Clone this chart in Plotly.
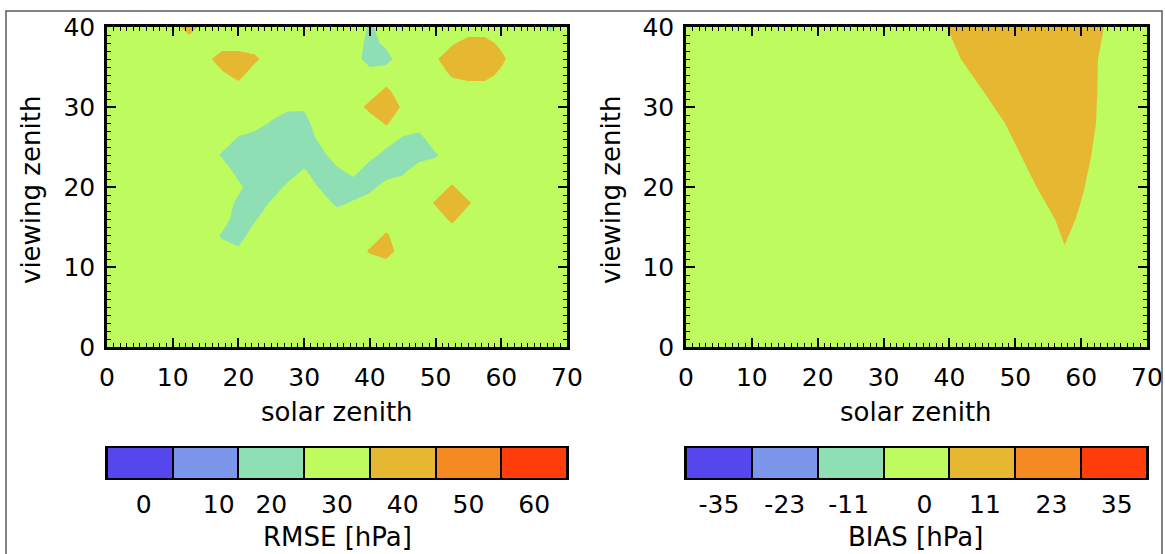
import plotly.graph_objects as go

# ---------------- data ----------------
SOLAR_ZENITH = [0.0, 2.5, 5.0, 7.5, 10.0, 12.5, 15.0, 17.5, 20.0, 22.5, 25.0, 27.5, 30.0, 32.5,
                35.0, 37.5, 40.0, 42.5, 45.0, 47.5, 50.0, 52.5, 55.0, 57.5, 60.0, 62.5, 65.0,
                67.5, 70.0]

VIEW_ZENITH_RMSE = [0, 2, 4, 6, 8, 10, 12, 14, 16, 18, 20, 22, 24, 26, 28, 30, 32, 34, 36, 38, 40]

RMSE = [
    [30, 30, 30, 30, 30, 30, 30, 30, 30, 30, 30, 30, 30, 30, 30, 30, 30, 30, 30, 30, 30, 30, 30, 30, 30, 30, 30, 30, 30],
    [30, 30, 30, 30, 30, 30, 30, 30, 30, 30, 30, 30, 30, 30, 30, 30, 30, 30, 30, 30, 30, 30, 30, 30, 30, 30, 30, 30, 30],
    [30, 30, 30, 30, 30, 30, 30, 30, 30, 30, 30, 30, 30, 30, 30, 30, 30, 30, 30, 30, 30, 30, 30, 30, 30, 30, 30, 30, 30],
    [30, 30, 30, 30, 30, 30, 30, 30, 30, 30, 30, 30, 30, 30, 30, 30, 30, 30, 30, 30, 30, 30, 30, 30, 30, 30, 30, 30, 30],
    [30, 30, 30, 30, 30, 30, 30, 30, 30, 30, 30, 30, 30, 30, 30, 30, 30, 30, 30, 30, 30, 30, 30, 30, 30, 30, 30, 30, 30],
    [30, 30, 30, 30, 30, 30, 30, 30, 30, 30, 30, 30, 30, 30, 30, 30, 30, 30, 30, 30, 30, 30, 30, 30, 30, 30, 30, 30, 30],
    [30, 30, 30, 30, 30, 30, 30, 28, 27, 30, 30, 30, 30, 30, 30, 30, 36, 40, 30, 30, 30, 30, 30, 30, 30, 30, 30, 30, 30],
    [30, 30, 30, 30, 30, 30, 30, 24, 20, 30, 30, 30, 30, 30, 30, 30, 30, 36, 30, 30, 30, 30, 30, 30, 30, 30, 30, 30, 30],
    [30, 30, 30, 30, 30, 30, 30, 30, 20, 24, 30, 30, 30, 30, 30, 30, 30, 30, 30, 30, 30, 37, 30, 30, 30, 30, 30, 30, 30],
    [30, 30, 30, 30, 30, 30, 30, 30, 23, 20, 26, 30, 30, 30, 23, 26, 30, 30, 30, 30, 36, 40, 36, 30, 30, 30, 30, 30, 30],
    [30, 30, 30, 30, 30, 30, 30, 30, 27, 20, 20, 27, 30, 24, 20, 20, 22, 29, 30, 30, 30, 36, 30, 30, 30, 30, 30, 30, 30],
    [30, 30, 30, 30, 30, 30, 30, 30, 22, 20, 20, 20, 26, 20, 23, 28, 20, 20, 23, 30, 30, 30, 30, 30, 30, 30, 30, 30, 30],
    [30, 30, 30, 30, 30, 30, 30, 24, 20, 20, 20, 20, 20, 22, 30, 31, 28, 22, 20, 21, 24, 30, 30, 30, 30, 30, 30, 30, 30],
    [30, 30, 30, 30, 30, 30, 30, 30, 24, 20, 20, 20, 20, 27, 30, 30, 30, 29, 24, 22, 30, 30, 30, 30, 30, 30, 30, 30, 30],
    [30, 30, 30, 30, 30, 30, 30, 30, 30, 30, 24, 20, 22, 30, 30, 30, 30, 36, 30, 29, 30, 30, 30, 30, 30, 30, 30, 30, 30],
    [30, 30, 30, 30, 30, 30, 30, 30, 30, 30, 30, 27, 26, 30, 30, 30, 38, 40, 34, 30, 30, 30, 30, 30, 30, 30, 30, 30, 30],
    [30, 30, 30, 30, 30, 30, 30, 30, 30, 30, 30, 30, 30, 30, 30, 30, 30, 37, 30, 30, 30, 30, 30, 30, 30, 30, 30, 30, 30],
    [30, 30, 30, 30, 30, 30, 30, 33, 38, 30, 30, 30, 30, 30, 30, 30, 30, 30, 30, 30, 30, 36, 38, 38, 33, 30, 30, 30, 30],
    [30, 30, 30, 30, 30, 30, 32, 40, 40, 37, 30, 30, 30, 30, 30, 30, 20, 22, 30, 30, 34, 40, 42, 42, 37, 30, 30, 30, 30],
    [30, 30, 30, 30, 30, 30, 30, 30, 30, 30, 30, 30, 30, 30, 30, 30, 22, 27, 30, 30, 30, 34, 38, 38, 33, 30, 30, 30, 30],
    [30, 30, 30, 30, 30, 40, 30, 30, 30, 30, 30, 30, 30, 30, 30, 30, 24, 28, 30, 30, 30, 30, 30, 30, 30, 30, 30, 23, 30],
]

VIEW_ZENITH_BIAS = [0, 4, 8, 12, 16, 20, 24, 28, 32, 36, 40]

BIAS = [
    [-3, -3, -3, -3, -3, -3, -3, -3, -3, -3, -3, -3, -3, -3, -3, -3, -3, -3, -3, -3, -3, -3, -3, -3, -3, -3, -3, -3, -3],
    [-3, -3, -3, -3, -3, -3, -3, -3, -3, -3, -3, -3, -3, -3, -3, -3, -3, -3, -3, -3, -3, -3, -3, -3, -3, -3, -3, -3, -3],
    [-3, -3, -3, -3, -3, -3, -3, -3, -3, -3, -3, -3, -3, -3, -3, -3, -3, -3, -3, -3, -3, -3, -3, -3, -3, -3, -3, -3, -3],
    [-3, -3, -3, -3, -3, -3, -3, -3, -3, -3, -3, -3, -3, -3, -3, -3, -3, -3, -3, -3, -1.5, 1.0, 3.5, 5.5, 3.5, 1.0, -1.5, -3, -3],
    [-3, -3, -3, -3, -3, -3, -3, -3, -3, -3, -3, -3, -3, -3, -3, -3, -3, -3, -3, -2.7, -0.2, 2.3, 4.8, 7.3, 5.1, 2.6, 0.1, -2.4, -3],
    [-3, -3, -3, -3, -3, -3, -3, -3, -3, -3, -3, -3, -3, -3, -3, -3, -3, -3, -2.4, 0.1, 2.6, 5.1, 7.6, 8.9, 6.4, 3.9, 1.4, -1.1, -3],
    [-3, -3, -3, -3, -3, -3, -3, -3, -3, -3, -3, -3, -3, -3, -3, -3, -3, -2.5, 0.0, 2.5, 5.0, 7.5, 10.0, 9.9, 7.4, 4.9, 2.4, -0.1, -2.6],
    [-3, -3, -3, -3, -3, -3, -3, -3, -3, -3, -3, -3, -3, -3, -3, -3, -2.6, -0.1, 2.4, 4.9, 7.4, 9.9, 12.0, 10.6, 8.1, 5.6, 3.1, 0.6, -1.9],
    [-3, -3, -3, -3, -3, -3, -3, -3, -3, -3, -3, -3, -3, -3, -3, -1.8, 0.7, 3.2, 5.7, 8.2, 10.7, 12.0, 12.0, 10.8, 8.3, 5.8, 3.3, 0.8, -1.7],
    [-3, -3, -3, -3, -3, -3, -3, -3, -3, -3, -3, -3, -3, -3, -0.9, 1.6, 4.1, 6.6, 9.1, 11.6, 12.0, 12.0, 12.0, 10.9, 8.4, 5.9, 3.4, 0.9, -1.6],
    [-3, -3, -3, -3, -3, -3, -3, -3, -3, -3, -3, -3, -3, -1.3, 1.2, 3.7, 6.2, 8.7, 11.2, 12.0, 12.0, 12.0, 12.0, 11.8, 9.3, 6.8, 4.3, 1.8, -0.7],
]

RMSE_BAR_VALUES = [0, 10, 20, 30, 40, 50, 60]
RMSE_BAR_LABELS = ["0", "10", "20", "30", "40", "50", "60"]
BIAS_BAR_VALUES = [-35, -23, -11, 0, 11, 23, 35]
BIAS_BAR_LABELS = ["-35", "-23", "-11", "0", "11", "23", "35"]

# ---------------- styling ----------------
PALETTE = ["#5546EE", "#7C96EC", "#8EE0B4", "#BDFB5E", "#E6B832", "#F58A22", "#FF3D0A"]
colorscale = []
for k, c in enumerate(PALETTE):
    colorscale.append([k / 7, c])
    colorscale.append([(k + 1) / 7, c])

FONT = "DejaVu Sans"
W, H = 1165, 554


def px_x(p):
    return p / W


def px_y(p):
    return 1 - p / H


fig = go.Figure()

fig.add_trace(go.Contour(
    x=SOLAR_ZENITH, y=VIEW_ZENITH_RMSE, z=RMSE,
    xaxis="x", yaxis="y",
    colorscale=colorscale, autocontour=False,
    contours=dict(start=5, end=55, size=10, coloring="fill", showlines=False),
    line=dict(width=0), line_smoothing=0, showscale=False, hoverinfo="skip"))

bias_step = 35 / 3
fig.add_trace(go.Contour(
    x=SOLAR_ZENITH, y=VIEW_ZENITH_BIAS, z=BIAS,
    xaxis="x2", yaxis="y2",
    colorscale=colorscale, autocontour=False,
    contours=dict(start=-2.5 * bias_step, end=2.5 * bias_step + 0.05, size=bias_step,
                  coloring="fill", showlines=False),
    line=dict(width=0), line_smoothing=0, showscale=False, hoverinfo="skip"))

fig.add_trace(go.Heatmap(
    x=list(range(len(RMSE_BAR_VALUES))), y=[0], z=[RMSE_BAR_VALUES],
    xaxis="x3", yaxis="y3", colorscale=colorscale, zmin=-5, zmax=65,
    xgap=2, showscale=False, hoverinfo="skip"))

fig.add_trace(go.Heatmap(
    x=list(range(len(BIAS_BAR_VALUES))), y=[0], z=[BIAS_BAR_VALUES],
    xaxis="x4", yaxis="y4", colorscale=colorscale, zmin=-35 - bias_step / 2,
    zmax=35 + bias_step / 2, xgap=2, showscale=False, hoverinfo="skip"))

tickfont = dict(family=FONT, size=25, color="black")
main_axis = dict(
    automargin=False,
    showline=True, linecolor="black", linewidth=2.5, mirror="ticks",
    ticks="inside", ticklen=9, tickwidth=2, tickcolor="black",
    minor=dict(dtick=1, ticks="inside", ticklen=4, tickwidth=1, tickcolor="black"),
    showgrid=False, zeroline=False, tickfont=tickfont, dtick=10, tick0=0)

bar_x = dict(automargin=False, range=[-0.5, 6.5], showline=True, linecolor="black",
             linewidth=2, mirror=True, ticks="", showgrid=False, zeroline=False,
             tickfont=tickfont, ticklabelstandoff=3)
bar_y = dict(automargin=False, range=[-0.5, 0.5], showline=True, linecolor="black",
             linewidth=2, mirror=True, ticks="", showticklabels=False, showgrid=False,
             zeroline=False)

left_dom = [px_x(107), px_x(567)]
right_dom = [px_x(686), px_x(1147)]
main_ydom = [px_y(347), px_y(27)]
bar_ydom = [px_y(478), px_y(448)]

fig.update_layout(
    template="none",
    width=W, height=H, margin=dict(l=0, r=0, t=0, b=0, pad=0), autosize=False,
    paper_bgcolor="white", plot_bgcolor="white", showlegend=False,
    xaxis=dict(main_axis, domain=left_dom, anchor="y", range=[0, 70], ticklabelstandoff=6),
    yaxis=dict(main_axis, domain=main_ydom, anchor="x", range=[0, 40], ticklabelstandoff=4),
    xaxis2=dict(main_axis, domain=right_dom, anchor="y2", range=[0, 70], ticklabelstandoff=6),
    yaxis2=dict(main_axis, domain=main_ydom, anchor="x2", range=[0, 40], ticklabelstandoff=4),
    xaxis3=dict(bar_x, domain=left_dom, anchor="y3",
                tickvals=[0.06, 1.2, 2, 3, 4, 5, 6], ticktext=RMSE_BAR_LABELS),
    yaxis3=dict(bar_y, domain=bar_ydom, anchor="x3"),
    xaxis4=dict(bar_x, domain=right_dom, anchor="y4",
                tickvals=[0, 1, 1.97, 3.12, 4.04, 5.05, 6.04], ticktext=BIAS_BAR_LABELS),
    yaxis4=dict(bar_y, domain=bar_ydom, anchor="x4"),
)

shapes = [
    dict(type="rect", xref="x3 domain", yref="y3 domain", x0=0, x1=1, y0=0, y1=1,
         fillcolor="black", line=dict(width=0), layer="below"),
    dict(type="rect", xref="x4 domain", yref="y4 domain", x0=0, x1=1, y0=0, y1=1,
         fillcolor="black", line=dict(width=0), layer="below"),
    dict(type="rect", xref="paper", yref="paper", x0=px_x(6), x1=px_x(1162), y0=-0.1, y1=px_y(11),
         line=dict(color="#5a5a5a", width=1.5), fillcolor="rgba(0,0,0,0)", layer="above"),
]
fig.update_layout(shapes=shapes)

title_font = dict(family=FONT, size=26, color="black")
annotations = [
    dict(text="viewing zenith", x=px_x(31), y=px_y(190), textangle=-90),
    dict(text="viewing zenith", x=px_x(611), y=px_y(190), textangle=-90),
    dict(text="solar zenith", x=px_x(337), y=px_y(412)),
    dict(text="solar zenith", x=px_x(916), y=px_y(412)),
    dict(text="RMSE [hPa]", x=px_x(337), y=px_y(537)),
    dict(text="BIAS [hPa]", x=px_x(916), y=px_y(537)),
]
for a in annotations:
    a.update(xref="paper", yref="paper", showarrow=False, font=title_font,
             xanchor="center", yanchor="middle")
fig.update_layout(annotations=annotations)

fig.write_html(
    "out.html",
    post_script="document.body.style.margin='0';document.body.style.overflow='hidden';",
)
